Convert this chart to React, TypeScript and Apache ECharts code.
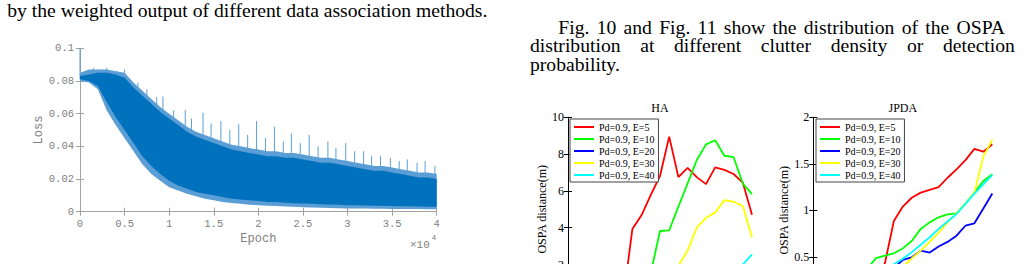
import React, { useEffect, useRef } from "react";
import * as echarts from "echarts";

// ---------- page text ----------
const leftLine = "by the weighted output of different data association methods.";
const rightLines = [
  "Fig. 10 and Fig. 11 show the distribution of the OSPA",
  "distribution at different clutter density or detection",
  "probability.",
];

// ---------- training loss (envelope sampled every 1000 epochs) ----------
const epochs = [
  0, 1000, 2000, 3000, 4000, 5000, 6000, 7000, 8000, 9000, 10000, 11000, 12000, 13000, 14000,
  15000, 16000, 17000, 18000, 19000, 20000, 21000, 22000, 23000, 24000, 25000, 26000, 27000,
  28000, 29000, 30000, 31000, 32000, 33000, 34000, 35000, 36000, 37000, 38000, 39000, 40000,
];
const lossFringeTop = [
  0.085, 0.087, 0.087, 0.087, 0.086, 0.085, 0.079, 0.074, 0.069, 0.064, 0.06, 0.056, 0.052, 0.049,
  0.047, 0.045, 0.043, 0.041, 0.04, 0.039, 0.038, 0.037, 0.037, 0.036, 0.036, 0.035, 0.034, 0.033,
  0.033, 0.032, 0.031, 0.03, 0.029, 0.028, 0.028, 0.027, 0.026, 0.025, 0.024, 0.024, 0.023,
];
const lossCoreTop = [
  0.083, 0.084, 0.085, 0.085, 0.084, 0.082, 0.076, 0.071, 0.066, 0.061, 0.057, 0.053, 0.049, 0.046,
  0.044, 0.042, 0.04, 0.038, 0.037, 0.036, 0.035, 0.034, 0.034, 0.033, 0.033, 0.032, 0.031, 0.03,
  0.03, 0.029, 0.028, 0.027, 0.026, 0.025, 0.025, 0.024, 0.023, 0.022, 0.021, 0.021, 0.02,
];
const lossCoreBottom = [
  0.081, 0.08, 0.077, 0.067, 0.058, 0.05, 0.042, 0.034, 0.028, 0.023, 0.019, 0.016, 0.014, 0.012,
  0.011, 0.01, 0.009, 0.008, 0.0075, 0.007, 0.0065, 0.006, 0.006, 0.0055, 0.0052, 0.005, 0.0048,
  0.0046, 0.0044, 0.0042, 0.004, 0.0039, 0.0038, 0.0037, 0.0036, 0.0035, 0.0034, 0.0033, 0.0032,
  0.0031, 0.003,
];
const lossFringeBottom = [
  0.08, 0.079, 0.075, 0.062, 0.053, 0.045, 0.037, 0.029, 0.023, 0.019, 0.015, 0.013, 0.011, 0.0095,
  0.008, 0.007, 0.006, 0.0053, 0.0048, 0.0043, 0.004, 0.0037, 0.0035, 0.0032, 0.003, 0.0027,
  0.0025, 0.0024, 0.0022, 0.0021, 0.002, 0.002, 0.0019, 0.0018, 0.0018, 0.0017, 0.0017, 0.0016,
  0.0016, 0.0015, 0.0015,
];
// isolated loss spikes rising above the band
const spikeEpochs = [
  0, 1500, 2500, 3000, 4200, 5000, 6500, 7500, 8600, 9300, 10500, 11800, 12500, 13800, 14700,
  15800, 16800, 17800, 18800, 19800, 20800, 21800, 22800, 23700, 24700, 25700, 26700, 27800,
  28700, 29800, 30800, 31800, 32700, 33700, 34800, 35800, 36700, 37800, 38700, 39800,
];
const spikeLoss = [
  0.1, 0.088, 0.087, 0.088, 0.086, 0.087, 0.079, 0.075, 0.07, 0.0705, 0.062, 0.0622, 0.057, 0.0606,
  0.054, 0.0555, 0.05, 0.0535, 0.047, 0.0555, 0.045, 0.052, 0.043, 0.048, 0.042, 0.047, 0.04,
  0.043, 0.039, 0.042, 0.037, 0.037, 0.034, 0.034, 0.033, 0.031, 0.032, 0.03, 0.031, 0.028,
];
const epochTickLabels = ["0", "0.5", "1", "1.5", "2", "2.5", "3", "3.5", "4"];

// ---------- OSPA curves ----------
const steps = [0, 1, 2, 3, 4, 5, 6, 7, 8, 9, 10, 11, 12, 13, 14, 15, 16, 17, 18, 19, 20];
const seriesNames = ["Pd=0.9, E=5", "Pd=0.9, E=10", "Pd=0.9, E=20", "Pd=0.9, E=30", "Pd=0.9, E=40"];
const seriesColors = ["#ff0000", "#00ff00", "#0000ff", "#ffff00", "#00ffff"];

const haE5 = [0.05, 0.06, 0.06, 0.08, 0.08, 0.09, 0.1, 3.93, 4.69, 5.78, 6.81, 8.95, 6.75, 7.25, 6.75, 6.37, 7.28, 7.14, 6.92, 6.45, 4.7];
const haE10 = [0.03, 0.04, 0.04, 0.05, 0.06, 0.08, 0.1, 0.2, 0.5, 1.55, 3.82, 3.86, 5.14, 6.41, 7.68, 8.53, 8.75, 7.91, 7.83, 6.4, 5.82];
const haE20 = [0.02, 0.03, 0.03, 0.04, 0.05, 0.05, 0.06, 0.08, 0.1, 0.12, 0.15, 0.22, 0.3, 0.38, 0.45, 0.6, 0.72, 0.85, 0.95, 1.1, 1.3];
const haE30 = [0.03, 0.03, 0.04, 0.05, 0.05, 0.06, 0.08, 0.1, 0.15, 0.3, 0.5, 0.9, 1.94, 2.75, 4.0, 4.54, 4.82, 5.5, 5.41, 5.18, 3.48];
const haE40 = [0.02, 0.02, 0.03, 0.03, 0.04, 0.05, 0.06, 0.07, 0.1, 0.12, 0.16, 0.2, 0.3, 0.4, 0.5, 0.65, 0.8, 1.0, 1.5, 2.0, 2.55];

const jpE5 = [0.1, 0.12, 0.14, 0.15, 0.17, 0.2, 0.24, 0.3, 0.43, 0.885, 1.04, 1.135, 1.19, 1.22, 1.25, 1.35, 1.44, 1.54, 1.66, 1.63, 1.71];
const jpE10 = [0.1, 0.12, 0.15, 0.18, 0.22, 0.28, 0.37, 0.485, 0.512, 0.538, 0.59, 0.67, 0.8, 0.87, 0.925, 0.957, 0.968, 1.075, 1.19, 1.315, 1.387];
const jpE20 = [0.05, 0.06, 0.08, 0.1, 0.12, 0.15, 0.2, 0.26, 0.32, 0.38, 0.466, 0.495, 0.566, 0.546, 0.61, 0.66, 0.727, 0.834, 0.86, 1.02, 1.18];
const jpE30 = [0.05, 0.06, 0.07, 0.09, 0.11, 0.13, 0.17, 0.22, 0.28, 0.33, 0.39, 0.484, 0.566, 0.66, 0.76, 0.87, 0.968, 1.075, 1.19, 1.58, 1.76];
const jpE40 = [0.06, 0.07, 0.09, 0.11, 0.14, 0.17, 0.21, 0.26, 0.33, 0.42, 0.48, 0.55, 0.63, 0.71, 0.8, 0.88, 0.96, 1.07, 1.18, 1.28, 1.38];

const haSeries = [haE5, haE10, haE20, haE30, haE40];
const jpSeries = [jpE5, jpE10, jpE20, jpE30, jpE40];

// ---------- styling ----------
const SERIF = "Liberation Serif";
const MONO = "Liberation Mono";
const BODY_SIZE = 18;
const LOSS_AXIS = "#a3a3a3";
const LOSS_TEXT = "#808080";
const CORE_BLUE = "#0072bd";
const FRINGE_BLUE = "#5b9dd5";
const SPIKE_BLUE = "#5a9fd8";

function measure(text: string): number {
  const ctx = document.createElement("canvas").getContext("2d");
  if (!ctx) return text.length * BODY_SIZE * 0.45;
  ctx.font = `${BODY_SIZE}px "${SERIF}"`;
  return ctx.measureText(text).width;
}

function bodyText(text: string, x: number, baseline: number, sx: number) {
  return {
    type: "text",
    x,
    y: baseline - BODY_SIZE * 0.3375,
    scaleX: sx,
    silent: true,
    style: { text, fontFamily: SERIF, fontSize: BODY_SIZE, fill: "#000", verticalAlign: "middle", align: "left" },
  };
}

// words spread evenly between x0 and x1 (justified line)
function justified(line: string, x0: number, x1: number, baseline: number, sx: number) {
  const words = line.split(" ");
  const widths = words.map((w) => measure(w) * sx);
  const total = widths.reduce((a, b) => a + b, 0);
  const gap = (x1 - x0 - total) / (words.length - 1);
  const out: any[] = [];
  let x = x0;
  words.forEach((w, i) => {
    out.push(bodyText(w, x, baseline, sx));
    x += widths[i] + gap;
  });
  return out;
}

function bandRenderer(top: number[], bottom: number[], color: string) {
  return (_params: any, api: any) => {
    const pts: number[][] = [];
    for (let i = 0; i < epochs.length; i++) pts.push(api.coord([epochs[i], top[i]]));
    for (let i = epochs.length - 1; i >= 0; i--) pts.push(api.coord([epochs[i], bottom[i]]));
    return { type: "polygon", shape: { points: pts }, style: { fill: color } };
  };
}

function boxAxes(gridIndex: number, min: number, max: number, interval: number, color: string, label: any, name?: any) {
  const common = {
    gridIndex,
    type: "value",
    min,
    max,
    interval,
    axisLine: { show: true, lineStyle: { color, width: 1 } },
    axisTick: { show: true, inside: true, length: 4, lineStyle: { color } },
    splitLine: { show: false },
  };
  return [
    { ...common, axisLabel: label, ...(name || {}) },
    { ...common, axisLabel: { show: false } },
  ];
}

export default function App() {
  const ref = useRef<HTMLDivElement>(null);

  useEffect(() => {
    if (!ref.current) return;
    const chart = echarts.init(ref.current, undefined, { renderer: "svg" });

    const sx = (488 - 7.3) / measure(leftLine);

    const lossX = boxAxes(0, 0, 40000, 5000, LOSS_AXIS,
      { color: LOSS_TEXT, fontFamily: MONO, fontSize: 10.5, margin: 7, formatter: (v: number) => epochTickLabels[Math.round(v / 5000)] },
      { name: "Epoch", nameLocation: "middle", nameGap: 21, nameTextStyle: { color: LOSS_TEXT, fontFamily: MONO, fontSize: 12 } });
    const lossY = boxAxes(0, 0, 0.1, 0.02, LOSS_AXIS,
      { color: LOSS_TEXT, fontFamily: MONO, fontSize: 10.5, margin: 6 },
      { name: "Loss", nameLocation: "middle", nameGap: 33, nameTextStyle: { color: LOSS_TEXT, fontFamily: MONO, fontSize: 12 } });

    const serifLabel = { color: "#000", fontFamily: SERIF, fontSize: 12, margin: 4 };
    const ospaName = (gap: number) => ({
      name: "OSPA distance(m)",
      nameLocation: "middle",
      nameGap: gap,
      nameTextStyle: { color: "#000", fontFamily: SERIF, fontSize: 12 },
    });
    const haX = boxAxes(1, 0, 20, 5, "#000", serifLabel);
    const haY = boxAxes(1, 0, 10, 2, "#000", serifLabel, ospaName(17));
    const jpX = boxAxes(2, 0, 20, 5, "#000", serifLabel);
    const jpY = boxAxes(2, 0, 2, 0.5, "#000", serifLabel, ospaName(20));

    const xAxes = [
      { ...lossX[0], position: "bottom" }, { ...lossX[1], position: "top" },
      { ...haX[0], position: "bottom" }, { ...haX[1], position: "top" },
      { ...jpX[0], position: "bottom" }, { ...jpX[1], position: "top" },
    ];
    const yAxes = [
      { ...lossY[0], position: "left" }, { ...lossY[1], position: "right" },
      { ...haY[0], position: "left" }, { ...haY[1], position: "right" },
      { ...jpY[0], position: "left" }, { ...jpY[1], position: "right" },
    ];

    const ospaLines = (data: number[][], axisIndex: number) =>
      data.map((vals, k) => ({
        type: "line",
        name: seriesNames[k],
        xAxisIndex: axisIndex,
        yAxisIndex: axisIndex,
        data: steps.map((s, i) => [s, vals[i]]),
        symbol: "none",
        lineStyle: { color: seriesColors[k], width: 1.8 },
        itemStyle: { color: seriesColors[k] },
        silent: true,
        clip: true,
      }));

    const legendBase = {
      orient: "vertical",
      top: 119,
      padding: [2, 4, 1, 3],
      itemGap: 0,
      itemWidth: 20,
      itemHeight: 12,
      selectedMode: false,
      backgroundColor: "#fff",
      borderColor: "#444",
      borderWidth: 1,
      data: seriesNames,
      itemStyle: { opacity: 0 },
      lineStyle: { width: 2 },
      textStyle: { fontFamily: SERIF, fontSize: 10, color: "#000", lineHeight: 12 },
    };

    const graphic: any[] = [
      bodyText(leftLine, 7.3, 17.3, sx),
      ...justified(rightLines[0], 558.3, 1005, 34, sx),
      ...justified(rightLines[1], 530, 1015, 52.3, sx),
      bodyText(rightLines[2], 530, 70.6, sx),
      { type: "text", x: 660, y: 108, silent: true, style: { text: "HA", fontFamily: SERIF, fontSize: 12, fill: "#000", align: "center", verticalAlign: "middle" } },
      { type: "text", x: 902.8, y: 108, silent: true, style: { text: "JPDA", fontFamily: SERIF, fontSize: 12, fill: "#000", align: "center", verticalAlign: "middle" } },
      { type: "text", x: 410, y: 244.5, silent: true, style: { text: "×10", fontFamily: MONO, fontSize: 11, fill: LOSS_TEXT, align: "left", verticalAlign: "middle" } },
      { type: "text", x: 431.5, y: 237.5, silent: true, style: { text: "4", fontFamily: MONO, fontSize: 8, fill: LOSS_TEXT, align: "left", verticalAlign: "middle" } },
    ];

    chart.setOption({
      animation: false,
      backgroundColor: "#fff",
      grid: [
        { left: 80, top: 48.3, width: 356.7, height: 163.4 },
        { left: 568, top: 117.3, width: 184, height: 184 },
        { left: 813.3, top: 117.3, width: 179, height: 186 },
      ],
      xAxis: xAxes,
      yAxis: yAxes,
      legend: [
        { ...legendBase, left: 570 },
        { ...legendBase, left: 816 },
      ],
      graphic,
      series: [
        {
          type: "custom",
          xAxisIndex: 0,
          yAxisIndex: 0,
          silent: true,
          data: spikeEpochs.map((e, i) => [e, spikeLoss[i], lossCoreTop[Math.round(e / 1000)] - 0.002]),
          renderItem: (_p: any, api: any) => {
            const a = api.coord([api.value(0), api.value(2)]);
            const b = api.coord([api.value(0), api.value(1)]);
            return { type: "line", shape: { x1: a[0], y1: a[1], x2: b[0], y2: b[1] }, style: { stroke: SPIKE_BLUE, lineWidth: 1 } };
          },
        },
        {
          type: "custom",
          xAxisIndex: 0,
          yAxisIndex: 0,
          silent: true,
          data: [[epochs[0], lossFringeTop[0]]],
          renderItem: bandRenderer(lossFringeTop, lossFringeBottom, FRINGE_BLUE),
        },
        {
          type: "custom",
          xAxisIndex: 0,
          yAxisIndex: 0,
          silent: true,
          data: [[epochs[0], lossCoreTop[0]]],
          renderItem: bandRenderer(lossCoreTop, lossCoreBottom, CORE_BLUE),
        },
        ...ospaLines(haSeries, 2),
        ...ospaLines(jpSeries, 4),
      ],
    });

    return () => chart.dispose();
  }, []);

  return (
    <div style={{ position: "fixed", left: 0, top: 0, width: 1023, height: 264, overflow: "hidden", background: "#fff" }}>
      <div ref={ref} style={{ width: 1023, height: 340 }} />
    </div>
  );
}
